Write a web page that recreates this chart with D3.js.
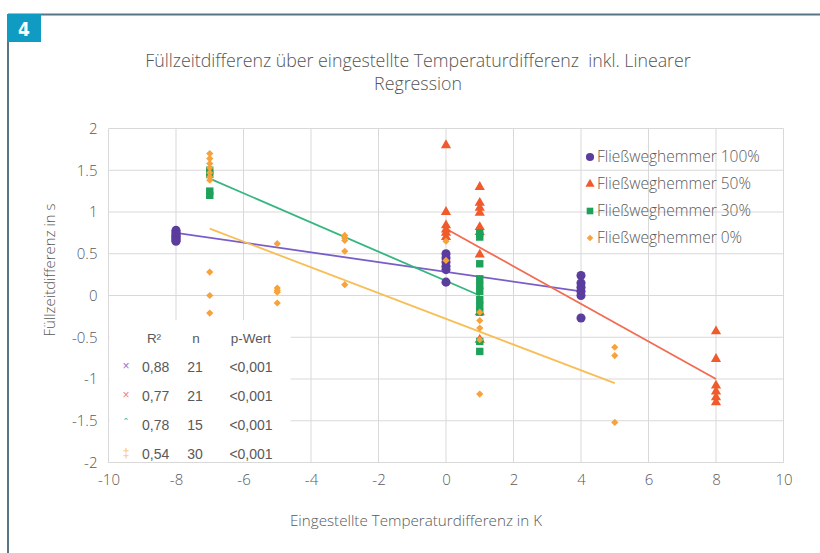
<!DOCTYPE html>
<html><head><meta charset="utf-8">
<script src="https://cdn.jsdelivr.net/npm/d3@7"></script>
<style>body{margin:0;background:#fff}svg{display:block}</style>
</head><body><svg id="c" width="820" height="553"></svg>
<script>
const titleLines = ["Füllzeitdifferenz über eingestellte Temperaturdifferenz  inkl. Linearer", "Regression"];
const xTicks = [-10,-8,-6,-4,-2,0,2,4,6,8,10];
const yTicks = [2,1.5,1,0.5,0,-0.5,-1,-1.5,-2];
const seriesNames = ["Fließweghemmer 100%","Fließweghemmer 50%","Fließweghemmer 30%","Fließweghemmer 0%"];
const seriesColors = ["#5b3d9e","#f15a2b","#1ea25a","#f7a23a"];
const lineColors = ["#7a5ec8","#f26b52","#35b680","#f8bd55"];
const seriesShapes = ["circle","triangle","square","diamond"];
// points as [x, y]
const p100 = [[-8,0.78],[-8,0.76],[-8,0.74],[-8,0.72],[-8,0.71],[-8,0.69],[-8,0.68],[-8,0.66],[-8,0.65],
  [0,0.5],[0,0.45],[0,0.4],[0,0.35],[0,0.31],[0,0.16],
  [4,0.24],[4,0.15],[4,0.1],[4,0.05],[4,0.0],[4,-0.27]];
const p50 = [[0,1.8],[0,1.0],[0,0.84],[0,0.79],[0,0.75],[0,0.7],
  [1,1.3],[1,1.11],[1,1.05],[1,0.99],[1,0.82],[1,0.76],[1,0.49],[1,-0.2],[1,-0.53],
  [8,-0.43],[8,-0.76],[8,-1.08],[8,-1.15],[8,-1.22],[8,-1.28]];
const p30 = [[-7,1.5],[-7,1.45],[-7,1.25],[-7,1.2],
  [1,0.75],[1,0.7],[1,0.38],[1,0.2],[1,0.12],[1,0.05],[1,-0.05],[1,-0.12],[1,-0.2],[1,-0.55],[1,-0.67]];
const p0 = [[-7,1.7],[-7,1.64],[-7,1.58],[-7,1.53],[-7,1.47],[-7,1.42],[-7,1.38],[-7,0.28],[-7,0.0],[-7,-0.21],
  [-5,0.62],[-5,0.09],[-5,0.06],[-5,0.04],[-5,-0.09],
  [-3,0.72],[-3,0.69],[-3,0.66],[-3,0.53],[-3,0.13],
  [0,0.65],[0,0.42],
  [1,-0.2],[1,-0.3],[1,-0.39],[1,-0.53],[1,-1.18],
  [5,-0.62],[5,-0.72],[5,-1.52]];
const allPoints = [p100,p50,p30,p0];
// regression line endpoints [x1,y1,x2,y2]
const regLines = [[-8,0.75,4,0.05],[0,0.8,8,-1.0],[-7,1.4,1,0.0],[-7,0.8,5,-1.05]];
const statHeader = ["R²","n","p-Wert"];
const statR2 = ["0,88","0,77","0,78","0,54"];
const statN = ["21","21","15","30"];
const statP = ["<0,001","<0,001","<0,001","<0,001"];

const svg = d3.select("#c");
const font = "'Open Sans', sans-serif";
const txt = "#595959";

// frame & badge
svg.append("line").attr("x1",8).attr("x2",820).attr("y1",14.5).attr("y2",14.5).attr("stroke","#587585").attr("stroke-width",2);
svg.append("line").attr("x1",8).attr("x2",8).attr("y1",14).attr("y2",553).attr("stroke","#587585").attr("stroke-width",2);
svg.append("rect").attr("x",7).attr("y",14).attr("width",34).attr("height",28).attr("fill","#0f9bc2");
svg.append("text").attr("x",24).attr("y",36).attr("text-anchor","middle").attr("fill","#fff")
  .attr("font-family","'DejaVu Sans Condensed','DejaVu Sans',sans-serif").attr("font-weight","bold").attr("font-size",19).text("4");

const x = d3.scaleLinear().domain([-10,10]).range([108.5,783.5]);
const y = d3.scaleLinear().domain([-2,2]).range([462.5,128.5]);

// title
svg.append("g").selectAll("text").data(titleLines).join("text")
  .attr("x",418).attr("y",(d,i)=>67+i*23).attr("text-anchor","middle").style("white-space","pre")
  .attr("font-family",font).attr("font-weight",300).attr("font-size",17.8).attr("fill","#555").text(d=>d);

// grid
const g = svg.append("g");
g.selectAll(".gx").data(xTicks).join("line").attr("x1",d=>x(d)).attr("x2",d=>x(d))
  .attr("y1",y(2)).attr("y2",y(-2)).attr("stroke","#d9d9d9").attr("stroke-width",1);
g.selectAll(".gy").data(yTicks).join("line").attr("x1",x(-10)).attr("x2",x(10))
  .attr("y1",d=>y(d)).attr("y2",d=>y(d)).attr("stroke","#d9d9d9").attr("stroke-width",1);

// axes labels via d3 axes
const xAxis = svg.append("g").attr("transform",`translate(0,${y(-2)})`)
  .call(d3.axisBottom(x).tickValues(xTicks).tickSize(0).tickPadding(12).tickFormat(d=>String(d)));
const yAxis = svg.append("g").attr("transform",`translate(${x(-10)},0)`)
  .call(d3.axisLeft(y).tickValues(yTicks).tickSize(0).tickPadding(11).tickFormat(d=>String(d)));
[xAxis,yAxis].forEach(a=>{a.select(".domain").remove();
  a.selectAll("text").attr("font-family",font).attr("font-weight",300).attr("font-size",15).attr("fill",txt);});

svg.append("text").attr("x",416).attr("y",526).attr("text-anchor","middle").attr("font-family",font).attr("font-weight",300)
  .attr("font-size",15.2).attr("fill",txt).text("Eingestellte Temperaturdifferenz in K");
svg.append("text").attr("transform","translate(55,270) rotate(-90)").attr("text-anchor","middle").attr("font-family",font).attr("font-weight",300)
  .attr("font-size",15).attr("fill",txt).text("Füllzeitdifferenz in s");

// regression lines
svg.append("g").selectAll("line").data(regLines).join("line")
  .attr("x1",d=>x(d[0])).attr("y1",d=>y(d[1])).attr("x2",d=>x(d[2])).attr("y2",d=>y(d[3]))
  .attr("stroke",(d,i)=>lineColors[i]).attr("stroke-width",1.8);

// points
const symType = {circle:d3.symbolCircle,triangle:d3.symbolTriangle,square:d3.symbolSquare,diamond:d3.symbolSquare};
const symSize = {circle:65,triangle:45,square:55,diamond:26};
const symRot = {circle:0,triangle:0,square:0,diamond:45};
allPoints.forEach((pts,i)=>{
  const sh = seriesShapes[i];
  svg.append("g").selectAll("path").data(pts).join("path")
    .attr("transform",d=>`translate(${x(d[0])},${y(d[1])}) rotate(${symRot[sh]})`)
    .attr("d",d3.symbol().type(symType[sh]).size(symSize[sh]))
    .attr("fill",seriesColors[i]);
});

// stats table box
svg.append("rect").attr("x",x(-10)+1).attr("y",320).attr("width",181).attr("height",y(-2)-320-1).attr("fill","#fff");
svg.append("line").attr("x1",x(-10)).attr("x2",x(-10)).attr("y1",320).attr("y2",y(-2)).attr("stroke","#d9d9d9");
svg.append("line").attr("x1",x(-10)).attr("x2",x(-4.6)).attr("y1",y(-2)).attr("y2",y(-2)).attr("stroke","#d9d9d9");
const tf = "'Liberation Sans', Arial, sans-serif";
const hx = [154,196,251];
svg.append("g").selectAll("text").data(statHeader).join("text").attr("x",(d,i)=>hx[i]).attr("y",343)
  .attr("text-anchor","middle").attr("font-family",tf).attr("font-size",13.5).attr("fill",txt).text(d=>d);
const rowY = [372,401,430,459];
statR2.forEach((v,i)=>{
  svg.append("text").attr("x",142).attr("y",rowY[i]).attr("font-family",tf).attr("font-size",14).attr("fill",txt).text(v);
  svg.append("text").attr("x",195).attr("y",rowY[i]).attr("text-anchor","middle").attr("font-family",tf).attr("font-size",14).attr("fill",txt).text(statN[i]);
  svg.append("text").attr("x",251).attr("y",rowY[i]).attr("text-anchor","middle").attr("font-family",tf).attr("font-size",14).attr("fill",txt).text(statP[i]);
  svg.append("text").attr("x",126).attr("y",rowY[i]-2).attr("text-anchor","middle").attr("font-family",tf).attr("font-size",12)
    .attr("fill",lineColors[i]).attr("opacity",0.85).text(i<2?"×":(i==2?"ˆ":"‡"));
});

// legend
const lg = svg.append("g");
seriesNames.forEach((n,i)=>{
  const ly = 157+i*27;
  const sh = seriesShapes[i];
  lg.append("path").attr("transform",`translate(590,${ly}) rotate(${symRot[sh]})`).attr("d",d3.symbol().type(symType[sh]).size(symSize[sh]*0.8)).attr("fill",seriesColors[i]);
  lg.append("text").attr("x",597).attr("y",ly+5).attr("font-family",font).attr("font-weight",300).attr("font-size",15.5).attr("fill",txt).text(n);
});
</script></body></html>
